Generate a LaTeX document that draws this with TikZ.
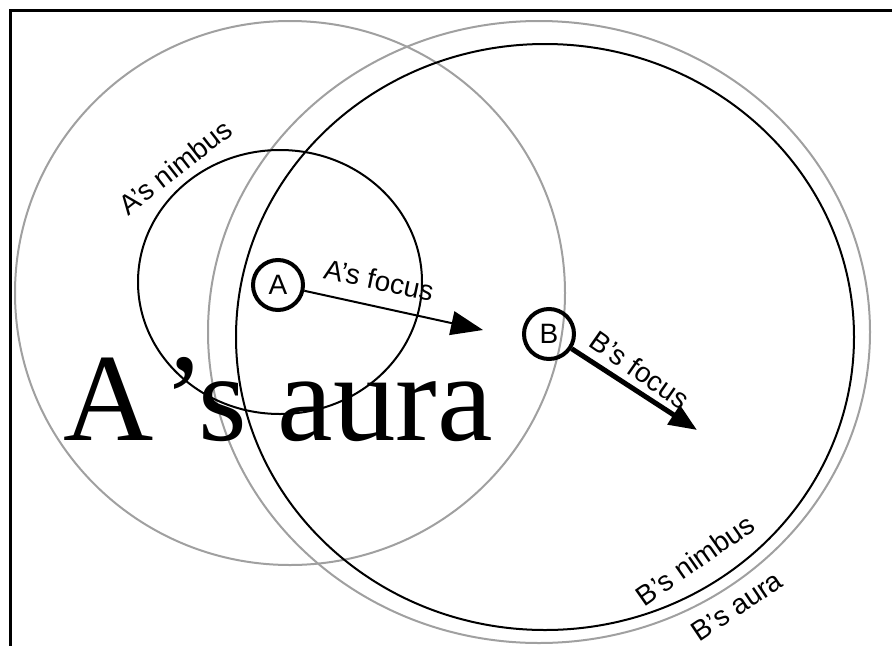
\documentclass[tikz,border=0pt]{standalone}
\usepackage{fontspec}
\setmainfont{Liberation Sans}
\newfontfamily\bigserif{Liberation Serif}
\usetikzlibrary{arrows.meta}
\definecolor{auragray}{RGB}{160,160,160}

\begin{document}
\begin{tikzpicture}[x=1pt,y=-1pt,
  every node/.style={font=\fontsize{28}{32}\selectfont},
  aura/.style={auragray,line width=2pt},
  nimbus/.style={black,line width=2pt},
  agent/.style={circle,draw,line width=4pt,minimum size=50pt,inner sep=0pt}]
  \useasboundingbox (0,0) rectangle (892,646);
  \draw[line width=3pt] (892,10) -- (10,10) -- (10,646);
  % auras and nimbi
  \draw[aura] (290,293) ellipse [x radius=275pt,y radius=272pt];
  \draw[aura] (539,332) ellipse [x radius=331pt,y radius=311pt];
  \draw[nimbus] (545,337) ellipse [x radius=309pt,y radius=293pt];
  \draw[nimbus] (280,282) ellipse [x radius=142pt,y radius=132pt];
  % agents and their focus
  \node[agent] (A) at (278,285) {A};
  \node[agent] (B) at (549,334) {B};
  \coordinate (Afocus) at (483,330);
  \coordinate (Bfocus) at (697,430);
  \draw[line width=2pt,-{Triangle[length=32pt,width=24pt]}] (A) -- (Afocus);
  \draw[line width=5pt,-{Triangle[length=28pt,width=22pt]}] (B) -- (Bfocus);
  % labels
  \node[rotate=38] (anim) at (175,167) {A’s nimbus};
  \node[rotate=-12] (afoc) at (379,280) {A’s focus};
  \node[rotate=-35] (bfoc) at (640,370) {B’s focus};
  \node[rotate=35] (bnim) at (695,560) {B’s nimbus};
  \node[rotate=34] (baur) at (737,606) {B’s aura};
  \node[anchor=base west,inner sep=0pt,font=\bigserif\fontsize{125}{130}\selectfont] (aaur) at (63,440) {A\kern10pt’s aura};
\end{tikzpicture}
\end{document}
